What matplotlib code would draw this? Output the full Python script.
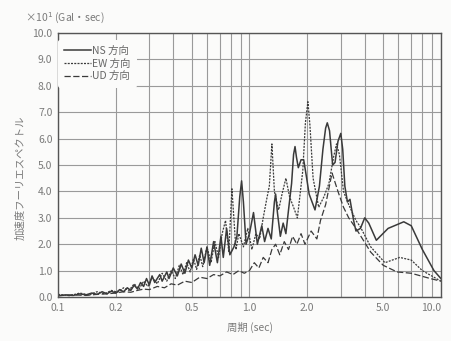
import matplotlib
matplotlib.use("Agg")
import matplotlib.pyplot as plt
from matplotlib.ticker import FixedLocator, NullFormatter

plt.rcParams['font.family'] = ['Noto Sans CJK JP', 'DejaVu Sans']

# NS 方向 (solid)
ns_t = [0.10, 0.11, 0.12, 0.13, 0.14, 0.15, 0.16, 0.17, 0.18, 0.19, 0.20,
        0.21, 0.22, 0.23, 0.24, 0.25, 0.26, 0.27, 0.28, 0.29, 0.30, 0.31,
        0.32, 0.34, 0.35, 0.37, 0.38, 0.40, 0.42, 0.44, 0.46, 0.48, 0.50,
        0.52, 0.54, 0.56, 0.58, 0.60, 0.62, 0.65, 0.68, 0.71, 0.73, 0.76,
        0.79, 0.83, 0.86, 0.89, 0.91, 0.93, 0.96, 1.00, 1.05, 1.10, 1.16,
        1.20, 1.25, 1.30, 1.35, 1.37, 1.40, 1.45, 1.50, 1.55, 1.60, 1.66,
        1.70, 1.73, 1.76, 1.80, 1.86, 1.92, 1.98, 2.05, 2.20, 2.32, 2.42,
        2.50, 2.55, 2.62, 2.72, 2.80, 2.90, 3.00, 3.07, 3.15, 3.25, 3.35,
        3.50, 3.60, 3.80, 4.00, 4.20, 4.60, 5.30, 6.40, 7.00, 8.00, 9.20,
        10.0]
ns_v = [0.05, 0.08, 0.06, 0.12, 0.08, 0.15, 0.10, 0.20, 0.12, 0.22, 0.15,
        0.28, 0.20, 0.35, 0.25, 0.45, 0.30, 0.55, 0.40, 0.70, 0.45, 0.80,
        0.55, 0.85, 0.60, 0.95, 0.70, 1.10, 0.80, 1.25, 0.90, 1.40, 1.10,
        1.60, 1.20, 1.85, 1.30, 1.90, 1.20, 2.10, 1.30, 2.30, 1.50, 2.60,
        1.60, 1.90, 2.30, 3.80, 4.40, 3.60, 2.00, 2.40, 3.20, 2.00, 2.70,
        2.10, 2.60, 2.20, 3.60, 3.90, 3.20, 2.30, 2.80, 2.40, 3.30, 4.30,
        5.40, 5.70, 5.30, 4.90, 5.20, 5.20, 4.60, 3.90, 3.30, 4.20, 5.60,
        6.40, 6.60, 6.30, 5.00, 5.10, 5.90, 6.20, 5.60, 4.20, 3.60, 3.70,
        2.90, 2.50, 2.60, 3.00, 2.80, 2.15, 2.60, 2.85, 2.70, 1.80, 1.00,
        0.70]

# EW 方向 (short dash)
ew_t = [0.10, 0.115, 0.13, 0.145, 0.16, 0.175, 0.19, 0.205, 0.22, 0.235,
        0.25, 0.265, 0.28, 0.295, 0.31, 0.33, 0.35, 0.37, 0.39, 0.41, 0.43,
        0.45, 0.47, 0.49, 0.51, 0.53, 0.55, 0.57, 0.60, 0.63, 0.66, 0.69,
        0.72, 0.75, 0.78, 0.81, 0.85, 0.88, 0.93, 0.98, 1.03, 1.08, 1.13,
        1.18, 1.23, 1.27, 1.31, 1.35, 1.42, 1.48, 1.55, 1.62, 1.70, 1.78,
        1.90, 1.96, 2.02, 2.07, 2.15, 2.30, 2.45, 2.60, 2.75, 2.85, 2.95,
        3.10, 3.30, 3.60, 3.80, 4.30, 5.10, 6.10, 7.00, 8.00, 10.0]
ew_v = [0.10, 0.05, 0.15, 0.08, 0.20, 0.12, 0.25, 0.18, 0.35, 0.25, 0.50,
        0.30, 0.60, 0.40, 0.75, 0.50, 0.90, 0.60, 1.00, 0.70, 1.20, 0.85,
        1.30, 0.95, 1.45, 1.05, 1.60, 1.15, 1.90, 1.30, 2.10, 1.50, 2.40,
        2.90, 1.70, 4.10, 1.80, 2.40, 1.90, 2.60, 1.80, 2.40, 2.20, 3.00,
        3.70, 4.20, 5.80, 4.00, 3.30, 3.90, 4.50, 3.80, 3.40, 3.00, 4.80,
        6.60, 7.40, 6.50, 4.50, 3.40, 3.80, 4.30, 5.30, 5.80, 5.40, 4.00,
        3.50, 2.90, 2.65, 1.90, 1.30, 1.50, 1.40, 1.00, 0.60]

# UD 方向 (long dash)
ud_t = [0.10, 0.12, 0.14, 0.16, 0.18, 0.20, 0.22, 0.24, 0.26, 0.28, 0.30,
        0.33, 0.36, 0.39, 0.42, 0.46, 0.50, 0.55, 0.60, 0.65, 0.70, 0.76,
        0.82, 0.88, 0.94, 1.00, 1.06, 1.12, 1.18, 1.25, 1.31, 1.37, 1.44,
        1.52, 1.60, 1.68, 1.77, 1.86, 1.95, 2.10, 2.25, 2.35, 2.50, 2.70,
        2.90, 3.10, 3.30, 3.60, 4.30, 5.00, 5.90, 7.00, 8.80, 10.0]
ud_v = [0.05, 0.08, 0.06, 0.10, 0.12, 0.15, 0.20, 0.18, 0.25, 0.30, 0.28,
        0.40, 0.35, 0.50, 0.45, 0.60, 0.55, 0.75, 0.70, 0.85, 0.80, 0.95,
        0.85, 1.00, 0.90, 1.00, 1.30, 1.10, 1.50, 1.30, 1.80, 2.00, 1.60,
        2.10, 1.80, 2.30, 2.00, 2.40, 2.00, 2.50, 2.20, 2.90, 3.50, 4.70,
        4.00, 3.40, 3.00, 2.60, 1.70, 1.20, 0.95, 0.90, 0.70, 0.60]

x_ticks = [0.1, 0.2, 0.5, 1.0, 2.0, 5.0, 10.0]
x_grid = [0.1, 0.2, 0.3, 0.4, 0.5, 0.6, 0.7, 0.8, 0.9, 1.0,
          2, 3, 4, 5, 6, 7, 8, 9, 10]
y_ticks = [0, 1, 2, 3, 4, 5, 6, 7, 8, 9, 10]

txt = '#7a7a7a'
lc = '#3a3a3a'

fig = plt.figure(figsize=(4.51, 3.41), dpi=100, facecolor='#fbfbfa')
ax = fig.add_axes([0.1286, 0.129, 0.849, 0.774])
ax.set_facecolor('#fbfbfa')

ax.plot(ns_t, ns_v, color=lc, lw=1.1, label='NS 方向')
ax.plot(ew_t, ew_v, color=lc, lw=0.9, dashes=(1.6, 1.0), label='EW 方向')
ax.plot(ud_t, ud_v, color=lc, lw=0.9, dashes=(5, 2), label='UD 方向')

ax.set_xscale('log')
ax.set_xlim(0.1, 10)
ax.set_ylim(0, 10)
ax.xaxis.set_major_locator(FixedLocator(x_ticks))
ax.xaxis.set_minor_locator(FixedLocator(x_grid))
ax.xaxis.set_minor_formatter(NullFormatter())
ax.set_xticklabels(['%.1f' % t for t in x_ticks])
ax.set_yticks(y_ticks)
ax.set_yticklabels(['%.1f' % t for t in y_ticks])
ax.grid(True, which='both', axis='x', color='#9a9a9a', lw=0.8)
ax.grid(True, which='major', axis='y', color='#9a9a9a', lw=0.8)
ax.tick_params(which='both', length=0, labelsize=7.5, labelcolor=txt, pad=4)
ax.get_xticklabels()[-1].set_horizontalalignment('right')
for s in ax.spines.values():
    s.set_color('#555555')
    s.set_linewidth(1.0)

leg = ax.legend(loc='upper left', bbox_to_anchor=(0.0, 0.975), frameon=True,
                fontsize=7.5, handlelength=2.6, handletextpad=0.1,
                labelspacing=0.25, borderpad=0.6, borderaxespad=0.0)
leg.get_frame().set_facecolor('#fbfbfa')
leg.get_frame().set_edgecolor('none')
leg.get_frame().set_alpha(1.0)
for t in leg.get_texts():
    t.set_color('#666666')

fig.text(0.055, 0.945, '×10$^1$ (Gal・sec)', fontsize=7.5, color=txt,
         ha='left', va='center')
fig.text(0.045, 0.48, '加速度フーリエスペクトル', fontsize=7.5, color=txt,
         rotation=90, ha='center', va='center')
fig.text(0.555, 0.04, '周期 (sec)', fontsize=7.5, color=txt,
         ha='center', va='center')

fig.savefig('out.png', dpi=100, facecolor=fig.get_facecolor())
